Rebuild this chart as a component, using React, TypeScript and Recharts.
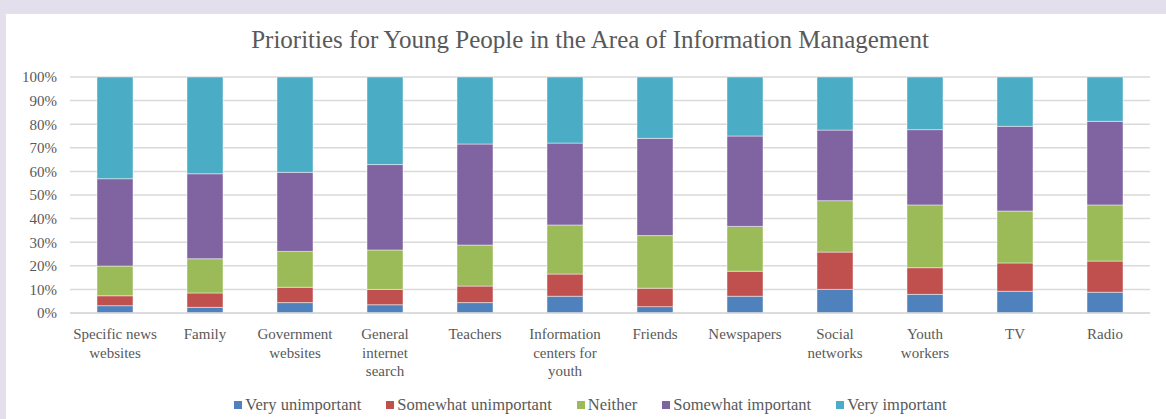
import { BarChart, Bar, XAxis, YAxis, CartesianGrid, Legend } from 'recharts';

const categories = [
  'Specific news\nwebsites',
  'Family',
  'Government\nwebsites',
  'General\ninternet\nsearch',
  'Teachers',
  'Information\ncenters for\nyouth',
  'Friends',
  'Newspapers',
  'Social\nnetworks',
  'Youth\nworkers',
  'TV',
  'Radio',
];

const veryUnimportant = [3.1, 2.4, 4.4, 3.5, 4.4, 7.1, 2.7, 7.1, 10.0, 7.9, 9.2, 8.8];
const somewhatUnimportant = [4.2, 6.1, 6.5, 6.5, 7.0, 9.4, 7.8, 10.6, 15.8, 11.3, 12.0, 13.2];
const neither = [12.6, 14.5, 15.2, 16.7, 17.4, 20.8, 22.3, 19.0, 21.8, 26.6, 22.0, 23.8];
const somewhatImportant = [37.0, 36.0, 33.5, 36.2, 42.8, 34.7, 41.2, 38.3, 29.9, 31.9, 35.9, 35.4];
const veryImportant = [43.1, 41.0, 40.4, 37.1, 28.4, 28.0, 26.0, 25.0, 22.5, 22.3, 20.9, 18.8];

const yTicks = [0, 10, 20, 30, 40, 50, 60, 70, 80, 90, 100];

const series = [
  { key: 'vu', name: 'Very unimportant', color: '#4F81BD' },
  { key: 'su', name: 'Somewhat unimportant', color: '#C0504D' },
  { key: 'ne', name: 'Neither', color: '#9BBB59' },
  { key: 'si', name: 'Somewhat important', color: '#8064A2' },
  { key: 'vi', name: 'Very important', color: '#4BACC6' },
];

const data = categories.map((c, i) => ({
  name: c,
  vu: veryUnimportant[i],
  su: somewhatUnimportant[i],
  ne: neither[i],
  si: somewhatImportant[i],
  vi: veryImportant[i],
}));

const FONT = '"Liberation Serif", serif';
const TEXT = '#595959';

function CategoryTick({ x, y, payload }: any) {
  const lines = String(payload.value).split('\n');
  return (
    <text x={x} y={y + 24} textAnchor="middle" fill={TEXT} fontFamily={FONT} fontSize={15}>
      {lines.map((l, i) => (
        <tspan key={i} x={x} dy={i === 0 ? 0 : 18.5}>{l}</tspan>
      ))}
    </text>
  );
}

function LegendContent() {
  return (
    <div style={{ display: 'flex', justifyContent: 'center', fontFamily: FONT, fontSize: 16.5, color: TEXT, paddingLeft: 40 }}>
      {series.map(s => (
        <div key={s.key} style={{ display: 'flex', alignItems: 'center', marginRight: 25 }}>
          <span style={{ width: 8, height: 8, background: s.color, marginRight: 3, display: 'inline-block' }} />
          {s.name}
        </div>
      ))}
    </div>
  );
}

export default function App() {
  return (
    <div style={{ position: 'absolute', left: 0, top: 0, width: 1166, height: 419, background: '#e4dfec' }}>
      <div style={{ position: 'absolute', left: 6, top: 14, width: 1160, height: 405, background: '#ffffff' }} />
      <div
        style={{
          position: 'absolute', left: 0, top: 26, width: 1180, textAlign: 'center',
          fontFamily: FONT, fontSize: 25, color: TEXT,
        }}
      >
        Priorities for Young People in the Area of Information Management
      </div>
      <div style={{ position: 'absolute', left: 0, top: 0 }}>
        <BarChart width={1166} height={419} data={data} margin={{ top: 77, right: 16, left: 0, bottom: 36 }}>
          <CartesianGrid vertical={false} stroke="#d9d9d9" strokeWidth={1.5} />
          <XAxis
            dataKey="name"
            height={70}
            tickLine={false}
            axisLine={{ stroke: '#d9d9d9', strokeWidth: 1.5 }}
            tickSize={0}
            interval={0}
            tick={<CategoryTick />}
          />
          <YAxis
            width={70}
            domain={[0, 100]}
            ticks={yTicks}
            tickFormatter={(v: number) => `${v}%`}
            axisLine={false}
            tickLine={false}
            tickSize={0}
            tickMargin={13}
            tick={{ fill: TEXT, fontFamily: FONT, fontSize: 15 }}
          />
          <Legend
            verticalAlign="middle"
            align="center"
            content={<LegendContent />}
            wrapperStyle={{ top: 395, left: 0, width: 1166 }}
          />
          {series.map(s => (
            <Bar
              key={s.key}
              dataKey={s.key}
              name={s.name}
              stackId="a"
              fill={s.color}
              barSize={36}
              stroke="#ffffff"
              strokeOpacity={0.6}
              strokeWidth={0.75}
              isAnimationActive={false}
            />
          ))}
        </BarChart>
      </div>
    </div>
  );
}
